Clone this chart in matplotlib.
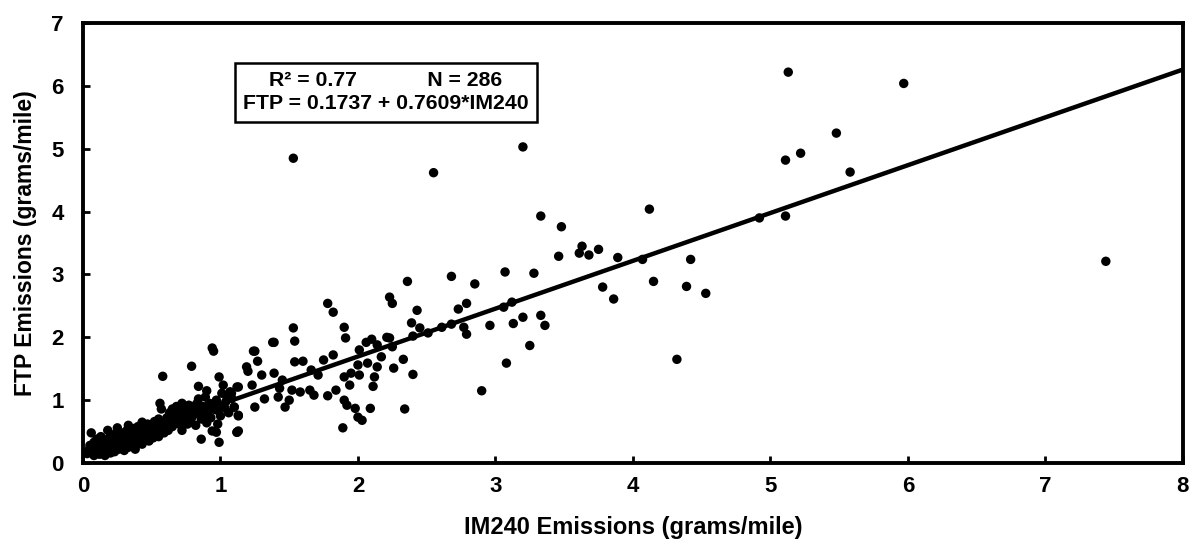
import matplotlib
matplotlib.use("Agg")
import matplotlib.pyplot as plt

plt.rcParams['font.family'] = ['Liberation Sans', 'DejaVu Sans']
plt.rcParams['font.weight'] = 'bold'

# Dense low cluster (IM240, FTP)
im240_low = [0.03,0.04,0.05,0.05,0.06,0.07,0.08,0.08,0.09,0.10,0.10,0.11,0.12,0.12,0.13,0.14,0.15,0.15,0.16,0.17,0.18,0.18,0.19,0.20,0.20,
             0.21,0.22,0.23,0.23,0.24,0.25,0.25,0.26,0.27,0.28,0.28,0.29,0.30,0.30,0.31,0.32,0.32,0.33,0.33,0.34,0.35,0.36,0.36,0.37,0.38,0.38,0.39,0.40,0.40,
             0.41,0.42,0.43,0.43,0.44,0.45,0.46,0.47,0.47,0.48,0.49,0.50,0.50,0.51,0.52,0.52,0.53,0.54,0.55,0.55,0.56,0.56,0.57,0.57,0.58,0.58,0.59,0.60,0.60,
             0.61,0.62,0.62,0.63,0.64,0.65,0.65,0.66,0.67,0.68,0.68,0.69,0.70,0.70,0.71,0.72,0.72,0.73,0.74,0.75,0.75,0.76,0.77,0.78,0.78,0.79,0.79,0.80,
             0.81,0.82,0.83,0.84,0.84,0.85,0.86,0.86,0.87,0.88,0.89,0.89,0.90,0.90,0.91,0.92,0.93,0.94,0.94,0.94,0.95,0.96,0.97,0.97,0.98,0.98,0.99,0.99,1.00,1.00,
             1.01,1.02,1.03,1.04,1.05,1.06,1.07,1.08,1.08,1.10,1.12,1.12,1.13,1.13]
ftp_low = [0.15,0.20,0.18,0.28,0.48,0.22,0.12,0.33,0.25,0.17,0.38,0.21,0.30,0.14,0.42,0.26,0.19,0.35,0.12,0.28,0.52,0.22,0.40,0.16,0.31,
           0.25,0.45,0.36,0.18,0.29,0.56,0.40,0.22,0.33,0.48,0.27,0.38,0.20,0.44,0.31,0.52,0.36,0.60,0.25,0.42,0.33,0.48,0.28,0.55,0.38,0.22,0.45,0.33,0.58,
           0.40,0.50,0.65,0.30,0.45,0.38,0.55,0.62,0.42,0.35,0.50,0.45,0.58,0.40,0.66,0.52,0.47,0.58,0.42,0.70,0.52,0.95,0.86,0.62,0.55,1.38,0.48,0.66,0.58,
           0.72,0.62,0.52,0.80,0.68,0.86,0.58,0.74,0.63,0.90,0.70,0.78,0.62,0.85,0.74,0.95,0.52,0.80,0.68,0.88,0.76,0.62,0.92,0.65,0.82,1.54,0.72,0.90,
           0.78,0.60,0.95,1.22,1.02,0.82,0.38,0.70,0.90,0.76,0.89,1.05,1.15,0.64,0.82,0.95,0.72,0.92,0.51,1.83,1.78,0.85,0.49,1.00,0.84,0.62,0.33,1.37,0.92,0.75,
           1.11,1.24,0.88,0.98,1.05,0.80,1.13,1.03,1.11,0.89,1.21,0.49,0.76,0.51]

# Middle range
im240_mid = [1.78,1.82,1.53,1.54,1.39,1.90,1.91,1.25,1.27,1.19,1.20,1.13,1.07,1.13,1.12,1.30,1.23,1.32,1.25,1.39,1.45,1.43,1.52,1.42,1.50,1.47,
             1.54,1.60,1.58,1.65,1.68,1.66,1.71,1.75,1.82,1.78,1.84,1.90,1.94,1.95,2.01,2.00,2.01,2.07,2.06,2.10,2.14,2.17,2.21,2.14,2.12,2.11,
             1.90,1.92,1.98,2.00,2.03,2.09,1.89,1.08,1.10,1.24,1.38,
             2.25,2.36,2.68,3.07,3.28,2.85,2.79,2.73,2.23,2.43,2.39,2.45,2.51,2.40,2.61,2.68,2.77,2.79,2.96,3.06,3.12,3.13,3.20,3.33,3.36,3.25,
             3.08,2.90,2.25,2.23,2.33,2.26,2.40,2.34,3.46]
ftp_mid = [2.54,2.40,2.15,1.94,1.92,2.16,1.99,1.78,1.62,1.53,1.46,1.21,1.13,0.75,0.49,1.40,1.24,1.02,0.89,1.43,1.32,1.19,1.16,1.05,1.00,0.89,
           1.61,1.62,1.13,1.16,1.08,1.48,1.40,1.64,1.72,1.07,1.16,1.37,1.24,1.43,1.40,1.56,1.80,1.59,1.92,1.97,1.88,1.69,2.00,1.53,1.37,1.22,
           1.00,0.92,0.87,0.73,0.68,0.87,0.56,1.03,0.89,1.78,1.92,
           2.54,2.89,2.97,3.04,3.02,2.85,2.54,2.45,2.64,2.43,2.23,2.15,2.07,2.02,2.16,2.21,2.16,2.05,2.19,2.48,2.56,2.22,2.32,2.35,2.19,1.87,
           1.59,1.15,1.85,1.99,1.65,1.51,1.41,0.86,3.29]

# High range / outliers
im240_high = [1.53,2.55,3.20,3.33,3.48,3.63,3.61,3.68,3.75,3.78,3.86,3.89,4.12,4.07,4.15,4.32,4.42,4.39,4.53,4.92,5.11,5.11,5.22,5.58,5.13,5.97,5.48,7.44]
ftp_high = [4.85,4.62,5.03,3.93,3.76,3.45,3.34,3.31,3.40,2.80,2.61,3.27,4.04,3.24,2.89,1.65,3.24,2.81,2.70,3.90,3.93,4.82,4.93,4.63,6.22,6.04,5.25,3.21]

intercept = 0.1737
slope = 0.7609
x_ticks = [0, 1, 2, 3, 4, 5, 6, 7, 8]
y_ticks = [0, 1, 2, 3, 4, 5, 6, 7]

fig = plt.figure(figsize=(11.89, 5.53), dpi=100)
ax = fig.add_axes([0.0698, 0.1627, 0.925, 0.7955])

xs = im240_low + im240_mid + im240_high
ys = ftp_low + ftp_mid + ftp_high
ax.scatter(xs, ys, s=46, color='black', edgecolors='none', zorder=3)

lx = [0, 8]
ax.plot(lx, [intercept + slope * v for v in lx], color='black', lw=3.2, zorder=4, solid_capstyle='butt')

ax.set_xlim(0, 8)
ax.set_ylim(0, 7)
ax.set_xticks(x_ticks)
ax.set_yticks(y_ticks)
ax.tick_params(direction='in', length=5, width=2, labelsize=16)
ax.tick_params(axis='x', pad=9)
ax.tick_params(axis='y', pad=14)
for lab in ax.get_xticklabels() + ax.get_yticklabels():
    lab.set_fontweight('bold')
for sp in ax.spines.values():
    sp.set_linewidth(2.8)

ax.set_xlabel('IM240 Emissions (grams/mile)', fontsize=17, fontweight='bold', labelpad=14)
ax.set_ylabel('FTP Emissions (grams/mile)', fontsize=16.5, fontweight='bold', labelpad=10)

ax.text(0.2755, 0.843, 'R² = 0.77            N = 286\nFTP = 0.1737 + 0.7609*IM240',
        transform=ax.transAxes, ha='center', va='center', fontsize=15.3, fontweight='bold',
        linespacing=1.3,
        bbox=dict(boxstyle='square,pad=0.38', facecolor='white', edgecolor='black', linewidth=1.8))

fig.savefig('out.png', dpi=100)
